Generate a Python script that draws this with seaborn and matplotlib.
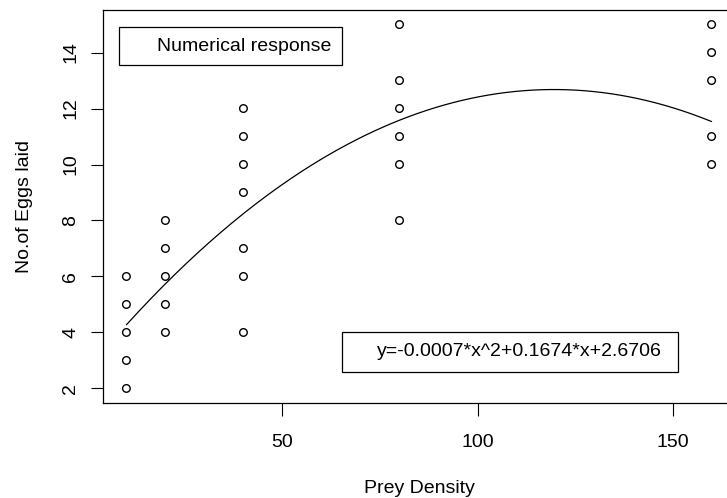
# Numerical response: eggs laid vs prey density, with quadratic fit
import numpy as np
import pandas as pd
import matplotlib
matplotlib.use("Agg")
import matplotlib.pyplot as plt
import seaborn as sns

prey_density = [10, 10, 10, 10, 10,
                20, 20, 20, 20, 20,
                40, 40, 40, 40, 40, 40, 40,
                80, 80, 80, 80, 80, 80,
                160, 160, 160, 160, 160]
eggs_laid = [2, 3, 4, 5, 6,
             4, 5, 6, 7, 8,
             4, 6, 7, 9, 10, 11, 12,
             8, 10, 11, 12, 13, 15,
             10, 11, 13, 14, 15]

# Fitted coefficients as printed on the chart (x^2, x, const)
fit_coef = [-0.0007, 0.1674, 2.6706]

x_ticks = [50, 100, 150]
y_ticks = [2, 4, 6, 8, 10, 12, 14]

df = pd.DataFrame({"density": prey_density, "eggs": eggs_laid})

# fitted curve over the observed range
curve_x = np.linspace(min(prey_density), max(prey_density), 200)
curve = pd.DataFrame({"density": curve_x, "eggs": np.polyval(fit_coef, curve_x)})

sns.set_theme(style="white")
plt.rcParams["font.family"] = ["Liberation Sans", "DejaVu Sans"]

fig = plt.figure(figsize=(7.27, 4.98), dpi=100)
# plot region runs past the right edge, like the cropped original
ax = fig.add_axes([103 / 727, 1 - 403 / 498, 632 / 727, 393 / 498])

sns.scatterplot(data=df, x="density", y="eggs", ax=ax, marker="o",
                facecolor="none", edgecolor="black", linewidth=1, s=30)
sns.lineplot(data=curve, x="density", y="eggs", ax=ax, color="black",
             linewidth=0.9)

ax.set_xlim(4, 166)
ax.set_ylim(1.48, 15.52)
ax.set_xticks(x_ticks)
ax.set_yticks(y_ticks)
ax.tick_params(axis="both", direction="out", length=9, width=0.8,
               color="black", labelsize=14, labelcolor="black",
               bottom=True, left=True)
ax.tick_params(axis="x", pad=13)
ax.tick_params(axis="y", pad=8)
for lab in ax.get_yticklabels():
    lab.set_rotation(90)
    lab.set_va("center")

for side in ["left", "top", "bottom", "right"]:
    ax.spines[side].set_color("black")
    ax.spines[side].set_linewidth(0.9)

ax.set_xlabel("Prey Density", fontsize=14, color="black", labelpad=21)
ax.set_ylabel("No.of Eggs laid", fontsize=14, color="black", labelpad=21)

# legend-like boxes
ax.add_patch(plt.Rectangle((0.0253, 0.8601), 0.3527, 0.0966,
                           transform=ax.transAxes, fill=False,
                           edgecolor="black", linewidth=0.9))
ax.text(0.0854, 0.9059, "Numerical response", transform=ax.transAxes,
        fontsize=14, va="center", ha="left", color="black")

eq = "y={:.4f}*x^2+{:.4f}*x+{:.4f}".format(*fit_coef)
ax.add_patch(plt.Rectangle((0.378, 0.0789), 0.5318, 0.1018,
                           transform=ax.transAxes, fill=False,
                           edgecolor="black", linewidth=0.9))
ax.text(0.4335, 0.1298, eq, transform=ax.transAxes,
        fontsize=14, va="center", ha="left", color="black")

plt.savefig("out.png", dpi=100)
